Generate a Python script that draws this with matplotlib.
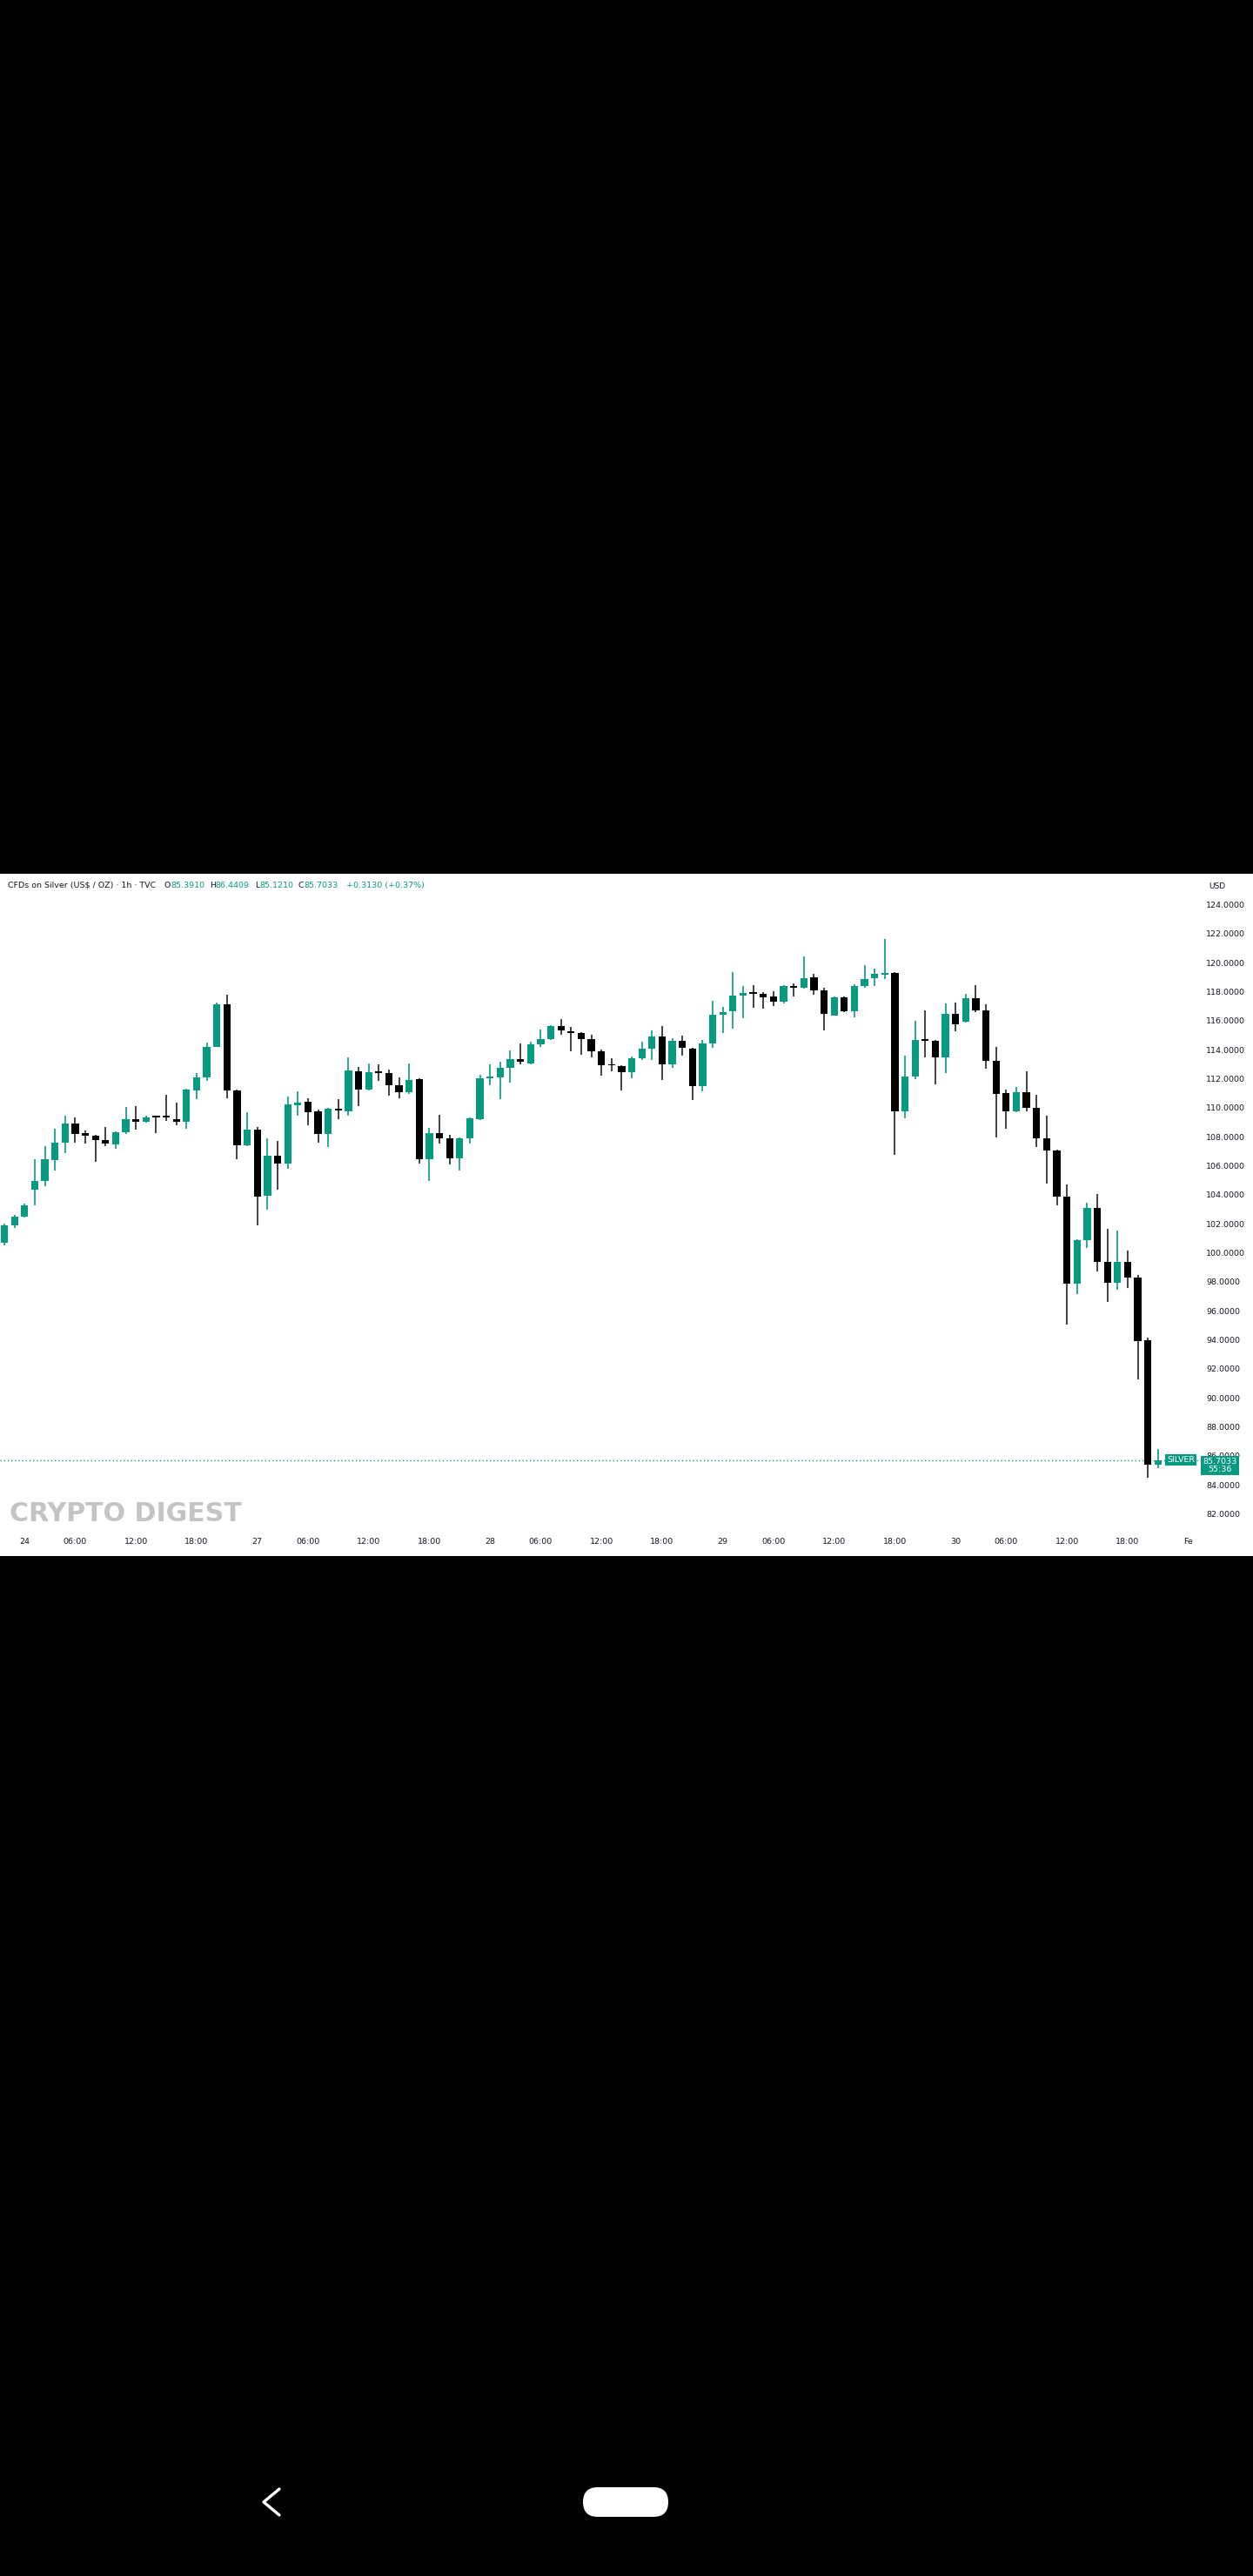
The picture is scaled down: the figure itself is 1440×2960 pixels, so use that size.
import matplotlib
matplotlib.use("Agg")
import matplotlib.pyplot as plt
from matplotlib import font_manager, transforms
from matplotlib.patches import Rectangle, FancyBboxPatch
from matplotlib.lines import Line2D

# CFDs on Silver, 1h candles (TVC)
opens = [100.70, 101.86, 102.46, 104.36, 104.96, 106.36, 107.56, 108.90, 108.26, 108.04,
         107.76, 107.46, 108.32, 109.22, 109.00, 109.38, 109.36, 109.22, 109.00, 111.16,
         112.06, 114.20, 117.12, 111.16, 107.40, 108.50, 103.90, 106.66, 106.12, 110.16,
         110.40, 109.76, 108.20, 109.92, 109.76, 112.52, 111.26, 112.42, 112.36, 111.56,
         111.06, 111.96, 106.42, 108.26, 107.86, 106.50, 107.86, 109.22, 112.02, 112.06,
         112.72, 113.36, 113.06, 114.36, 114.70, 115.60, 115.26, 115.12, 114.70, 113.86,
         112.92, 112.86, 112.42, 113.40, 114.06, 114.92, 113.00, 114.60, 114.06, 111.50,
         114.42, 116.40, 116.66, 117.72, 117.90, 117.82, 117.66, 117.32, 118.36, 118.26,
         118.96, 118.10, 116.36, 117.60, 116.66, 118.40, 118.90, 119.18, 119.26, 109.72,
         112.12, 114.62, 114.60, 113.46, 116.46, 115.90, 117.56, 116.70, 113.20, 111.00,
         109.72, 111.06, 109.96, 107.90, 107.02, 103.86, 97.86, 100.86, 103.06, 99.36,
         97.92, 99.36, 98.26, 93.96, 85.391]
highs = [102.00, 102.60, 103.36, 106.46, 107.32, 108.56, 109.42, 109.30, 108.40, 108.10,
         108.66, 108.36, 110.02, 110.10, 109.46, 109.40, 110.86, 110.32, 111.32, 112.36,
         114.46, 117.26, 117.76, 111.26, 109.66, 108.66, 107.86, 107.72, 110.76, 111.12,
         110.66, 109.86, 109.96, 110.56, 113.46, 112.80, 113.06, 113.00, 112.60, 112.06,
         113.06, 112.00, 108.60, 109.52, 108.10, 107.96, 109.32, 112.26, 112.96, 113.16,
         113.92, 114.40, 114.56, 115.40, 115.70, 116.12, 115.56, 115.20, 115.00, 114.00,
         113.40, 112.90, 113.50, 114.56, 115.30, 115.62, 114.76, 114.96, 114.12, 114.66,
         117.36, 116.96, 119.36, 118.40, 118.46, 117.96, 118.00, 118.46, 118.56, 120.40,
         119.20, 118.26, 117.66, 117.66, 118.50, 119.80, 119.56, 121.62, 119.32, 113.60,
         115.96, 116.72, 114.66, 117.16, 117.26, 117.86, 118.46, 117.12, 114.20, 111.26,
         111.40, 112.52, 110.86, 109.46, 107.10, 104.70, 100.90, 103.46, 104.06, 101.66,
         101.52, 100.16, 98.46, 94.16, 86.4409]
lows = [100.50, 101.70, 102.40, 103.26, 104.60, 105.66, 106.86, 107.56, 107.50, 106.26,
        107.32, 107.16, 108.20, 108.50, 108.96, 108.26, 109.06, 108.76, 108.56, 110.60,
        111.86, 114.16, 110.66, 106.46, 107.32, 101.86, 102.96, 104.32, 105.76, 109.42,
        108.80, 107.60, 107.26, 109.20, 109.46, 110.10, 111.16, 111.82, 110.80, 110.62,
        110.96, 106.16, 104.92, 107.50, 106.06, 105.66, 107.50, 109.16, 111.56, 110.60,
        111.70, 112.96, 112.96, 114.20, 114.66, 115.02, 113.86, 113.62, 113.46, 112.22,
        112.50, 111.20, 112.00, 113.26, 113.30, 111.90, 112.72, 113.56, 110.50, 111.12,
        114.10, 115.16, 115.46, 116.16, 116.86, 116.80, 117.00, 117.16, 117.66, 118.20,
        117.76, 115.32, 116.32, 116.60, 116.20, 118.26, 118.40, 118.86, 106.76, 109.26,
        111.96, 113.46, 111.60, 112.36, 115.26, 115.86, 116.56, 112.66, 107.96, 108.52,
        109.66, 109.76, 107.26, 104.76, 103.26, 95.06, 97.16, 100.32, 98.70, 96.60,
        97.46, 97.56, 91.26, 84.46, 85.121]
closes = [101.86, 102.46, 103.26, 104.96, 106.42, 107.56, 108.92, 108.20, 108.06, 107.76,
          107.52, 108.32, 109.22, 109.00, 109.32, 109.34, 109.34, 109.00, 111.22, 112.06,
          114.20, 117.12, 111.16, 107.40, 108.50, 103.86, 106.70, 106.12, 110.20, 110.32,
          109.70, 108.20, 109.92, 109.80, 112.56, 111.26, 112.46, 112.38, 111.56, 111.06,
          111.90, 106.42, 108.26, 107.86, 106.50, 107.86, 109.26, 112.00, 112.16, 112.76,
          113.36, 113.16, 114.36, 114.70, 115.62, 115.30, 115.12, 114.70, 113.86, 112.92,
          112.90, 112.42, 113.40, 114.06, 114.92, 113.00, 114.60, 114.12, 111.50, 114.42,
          116.40, 116.56, 117.72, 117.90, 117.86, 117.60, 117.32, 118.36, 118.26, 118.92,
          118.06, 116.46, 117.60, 116.66, 118.40, 118.86, 119.20, 119.26, 109.72, 112.12,
          114.66, 114.60, 113.46, 116.46, 115.76, 117.56, 116.70, 113.20, 110.96, 109.76,
          111.06, 109.96, 107.90, 107.02, 103.86, 97.86, 100.86, 103.06, 99.36, 97.92,
          99.36, 98.26, 93.92, 85.39, 85.7033]

# time axis: bar index of each label
tick_pos = [2, 7, 13, 19, 25, 30, 36, 42, 48, 53, 59, 65, 71, 76, 82, 88, 94, 99, 105, 111, 117]
tick_labels = ['24', '06:00', '12:00', '18:00', '27', '06:00', '12:00', '18:00', '28', '06:00',
               '12:00', '18:00', '29', '06:00', '12:00', '18:00', '30', '06:00', '12:00', '18:00', 'Fe']
price_ticks = list(range(82, 126, 2))
last_price = 85.7033
countdown = '55:36'

title_parts = [('CFDs on Silver (US$ / OZ) · 1h · TVC', 'dark', 0),
               ('O', 'dark', 13), ('85.3910', 'teal', 0),
               ('H', 'dark', 8), ('86.4409', 'teal', 0),
               ('L', 'dark', 8), ('85.1210', 'teal', 0),
               ('C', 'dark', 8), ('85.7033', 'teal', 0),
               ('+0.3130 (+0.37%)', 'teal', 13)]

teal = '#089981'
dark = '#131722'

names = {f.name for f in font_manager.fontManager.ttflist}
if 'Liberation Sans Narrow' in names:
    ui_font, k = 'Liberation Sans Narrow', 1.0
else:
    ui_font, k = 'DejaVu Sans', 0.72

W, H = 1440, 2960
fig = plt.figure(figsize=(W / 100, H / 100), dpi=100, facecolor='black')
inch = fig.dpi_scale_trans

# white chart panel of the screenshot
fig.patches.append(Rectangle((0, (H - 1788) / 100), W / 100, 784 / 100, transform=inch,
                             facecolor='white', edgecolor='none', zorder=-5))

ax = fig.add_axes([0, (H - 1762) / H, 1380 / W, (1762 - 1004) / H])
ax.set_facecolor('white')
for s in ax.spines.values():
    s.set_visible(False)

x = list(range(len(opens)))
up = [c >= o for o, c in zip(opens, closes)]
body_col = [teal if u else 'black' for u in up]
wick_col = [teal if u else '#222222' for u in up]
bottoms = [min(o, c) for o, c in zip(opens, closes)]
heights = [max(abs(c - o), 0.1) for o, c in zip(opens, closes)]

ax.vlines(x, lows, highs, colors=wick_col, linewidth=1.2, zorder=2)
ax.bar(x, heights, bottom=bottoms, width=0.71, color=body_col, linewidth=0, zorder=3)

ax.set_xlim(-0.43, 118.23)
ax.set_ylim(80.64, 126.12)

ax.set_xticks(tick_pos, labels=tick_labels)
ax.yaxis.tick_right()
ax.set_yticks(price_ticks, labels=[f'{p:.4f}' for p in price_ticks])
ax.tick_params(axis='x', length=0, pad=3.5, labelsize=9.5 * k, labelcolor=dark)
ax.tick_params(axis='y', length=0, pad=4.5, labelsize=9.5 * k, labelcolor=dark)
for lab in ax.get_xticklabels() + ax.get_yticklabels():
    lab.set_family(ui_font)

# last price line + labels
ax.axhline(last_price, color=teal, linewidth=1.0, linestyle=(0, (1, 2)), zorder=1)
blend = transforms.blended_transform_factory(ax.transAxes, ax.transData)
ax.text(1357 / 1380, last_price, 'SILVER', transform=blend, ha='center', va='center',
        color='white', fontsize=9.5 * k, family=ui_font, zorder=5,
        bbox=dict(boxstyle='square,pad=0.22', facecolor=teal, edgecolor='none'))
ax.text(1402 / 1380, last_price - 0.39, f'{last_price:.4f}\n{countdown}', transform=blend,
        ha='center', va='center', color='white', fontsize=9.5 * k, family=ui_font,
        linespacing=1.0, zorder=5, clip_on=False,
        bbox=dict(boxstyle='square,pad=0.2', facecolor=teal, edgecolor='none'))

# watermark
fig.text(11 / W, 1 - 1739 / H, 'CRYPTO DIGEST', ha='left', va='center', color='#c4c4c4',
         fontsize=30 * k, fontweight='bold', family=ui_font)

fig.text(1399 / W, 1 - 1019 / H, 'USD', ha='center', va='center', color=dark,
         fontsize=9 * k, family=ui_font)

# title line, pieces placed one after another
title_size = 9.5 * k
renderer = fig.canvas.get_renderer()
xpos = 9
for s, c, gap in title_parts:
    t = fig.text((xpos + gap * k) / W, 1 - 1020 / H, s, ha='left', va='baseline',
                 color=teal if c == 'teal' else dark, fontsize=title_size, family=ui_font)
    xpos = t.get_window_extent(renderer).x1

# phone navigation bar
fig.add_artist(Line2D([3.21, 3.03, 3.21], [1.00, 0.85, 0.70], transform=inch,
                      color='white', linewidth=2.4, solid_capstyle='round',
                      solid_joinstyle='round'))
fig.patches.append(FancyBboxPatch((6.70, 0.68), 0.98, 0.34, transform=inch,
                                  boxstyle='round,pad=0,rounding_size=0.17',
                                  facecolor='white', edgecolor='none'))

fig.savefig('out.png', dpi=100, facecolor='black')
